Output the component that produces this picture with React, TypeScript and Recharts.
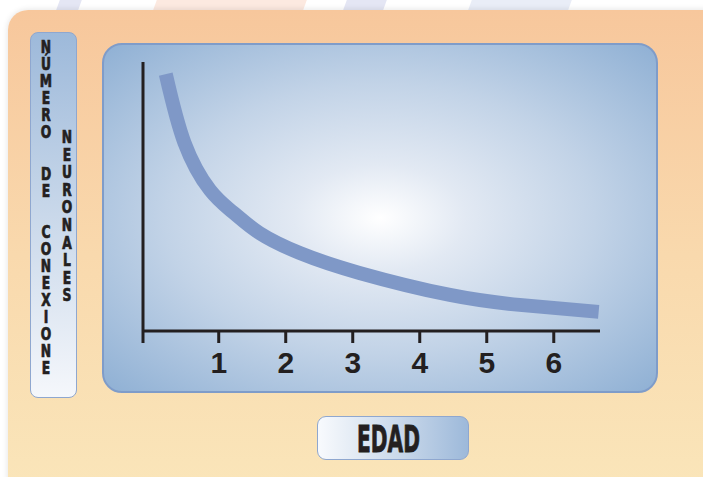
import React from 'react';
import { LineChart, Line, XAxis, YAxis } from 'recharts';

// edad (años) vs número de conexiones neuronales (relativo)
const edad = [0.21, 0.49, 0.87, 1.21, 1.61, 2.21, 3.1, 4.45, 5.49, 6.67];
const conexiones = [95.5, 69.9, 52.4, 44.2, 36.4, 29.0, 21.6, 13.4, 9.7, 7.1];
const xTicks = [1, 2, 3, 4, 5, 6];
const xMin = -0.13;
const xMax = 6.69;

const yLabelCol1 = ['NÚMERO', 'DE', 'CONEXIONE'];
const yLabelCol2 = ['NEURONALES'];
const xLabel = 'EDAD';

const data = edad.map((e, i) => ({ edad: e, conexiones: conexiones[i] }));

const letterFont = '"DejaVu Sans Condensed", "Liberation Sans Narrow", "Arial Narrow", sans-serif';

const Column = ({ words, left, top, step, gap }: { words: string[]; left: number; top: number; step: number; gap: number }) => (
  <div style={{ position: 'absolute', left, top, width: 14, display: 'flex', flexDirection: 'column', alignItems: 'center', transform: 'scaleX(0.76)', transformOrigin: 'center top' }}>
    {words.map((w, wi) => (
      <div key={wi} style={{ marginTop: wi === 0 ? 0 : gap, display: 'flex', flexDirection: 'column', alignItems: 'center' }}>
        {w.split('').map((ch, ci) => (
          <div key={ci} style={{ height: step, lineHeight: step + 'px', fontFamily: letterFont, fontWeight: 900, fontSize: 18, color: '#231F20', WebkitTextStroke: '0.7px #231F20' }}>
            {ch}
          </div>
        ))}
      </div>
    ))}
  </div>
);

export default function App() {
  return (
    <div style={{ position: 'absolute', left: 0, top: 0, width: 703, height: 477, overflow: 'hidden', background: '#ffffff' }}>
      {/* faint header remains */}
      <div style={{ position: 'absolute', left: 58, top: -5, width: 22, height: 20, background: '#d9dcef', transform: 'skewX(-20deg)', opacity: 0.7 }} />
      <div style={{ position: 'absolute', left: 155, top: -5, width: 150, height: 20, background: '#fbe4d8', transform: 'skewX(-20deg)', opacity: 0.8 }} />
      <div style={{ position: 'absolute', left: 345, top: -5, width: 40, height: 20, background: '#d9dcef', transform: 'skewX(-20deg)', opacity: 0.7 }} />
      <div style={{ position: 'absolute', left: 470, top: -5, width: 100, height: 20, background: '#e3e8f5', transform: 'skewX(-20deg)', opacity: 0.8 }} />

      {/* outer orange panel */}
      <div style={{ position: 'absolute', left: 8, top: 10, width: 720, height: 490, borderRadius: 20, background: 'linear-gradient(to bottom, #F7C79C 0%, #F9D9AD 50%, #FAE6BA 100%)', boxShadow: '0 0 6px rgba(0,0,0,0.12)' }} />

      {/* y label box */}
      <div style={{ position: 'absolute', left: 30, top: 32, width: 45, height: 364, borderRadius: 8, border: '1px solid #8FA7CF', background: 'linear-gradient(to bottom, #9DB9DA 0%, #C9D8EA 50%, #F5F7FB 100%)' }} />
      <Column words={yLabelCol1} left={38.5} top={38} step={17} gap={24.5} />
      <Column words={yLabelCol2} left={60} top={128} step={17.6} gap={0} />

      {/* chart panel */}
      <div style={{ position: 'absolute', left: 102, top: 43, width: 552, height: 346, borderRadius: 20, border: '2px solid #7F9CC9', background: 'radial-gradient(ellipse farthest-corner at 50% 50%, #ffffff 0%, #e2e9f3 22%, #c2d3e7 55%, #8FB0D4 100%)' }} />
      <div style={{ position: 'absolute', left: 102, top: 44 }}>
        <LineChart width={555} height={348} data={data} margin={{ top: 18, right: 57, left: 39, bottom: 0 }}>
          <XAxis
            type="number"
            dataKey="edad"
            domain={[xMin, xMax]}
            ticks={[xMin, ...xTicks]}
            tickFormatter={(v: number) => (v < 0.5 ? '' : String(v))}
            height={61}
            tickSize={12}
            tickMargin={9}
            axisLine={{ stroke: '#231F20', strokeWidth: 3 }}
            tickLine={{ stroke: '#231F20', strokeWidth: 3 }}
            tick={{ fill: '#231F20', fontSize: 30, fontWeight: 700, fontFamily: '"Liberation Sans", Arial, sans-serif' }}
            allowDataOverflow
          />
          <YAxis
            type="number"
            domain={[0, 100]}
            width={2}
            tick={false}
            tickLine={false}
            axisLine={{ stroke: '#231F20', strokeWidth: 3 }}
          />
          <Line type="natural" dataKey="conexiones" stroke="#7F98C7" strokeWidth={14} strokeLinecap="butt" dot={false} isAnimationActive={false} />
        </LineChart>
      </div>

      {/* x label box */}
      <div style={{ position: 'absolute', left: 317, top: 416, width: 150, height: 42, borderRadius: 9, border: '1px solid #8FA7CF', background: 'linear-gradient(to right, #F8FAFD 0%, #C9D8EA 55%, #9DB9DA 100%)' }} />
      <svg style={{ position: 'absolute', left: 317, top: 416 }} width={152} height={44}>
        <text x={40} y={36} textLength={63} lengthAdjust="spacingAndGlyphs" fontFamily={letterFont} fontWeight={900} fontSize={37} fill="#231F20" stroke="#231F20" strokeWidth={0.8}>
          {xLabel}
        </text>
      </svg>
    </div>
  );
}
